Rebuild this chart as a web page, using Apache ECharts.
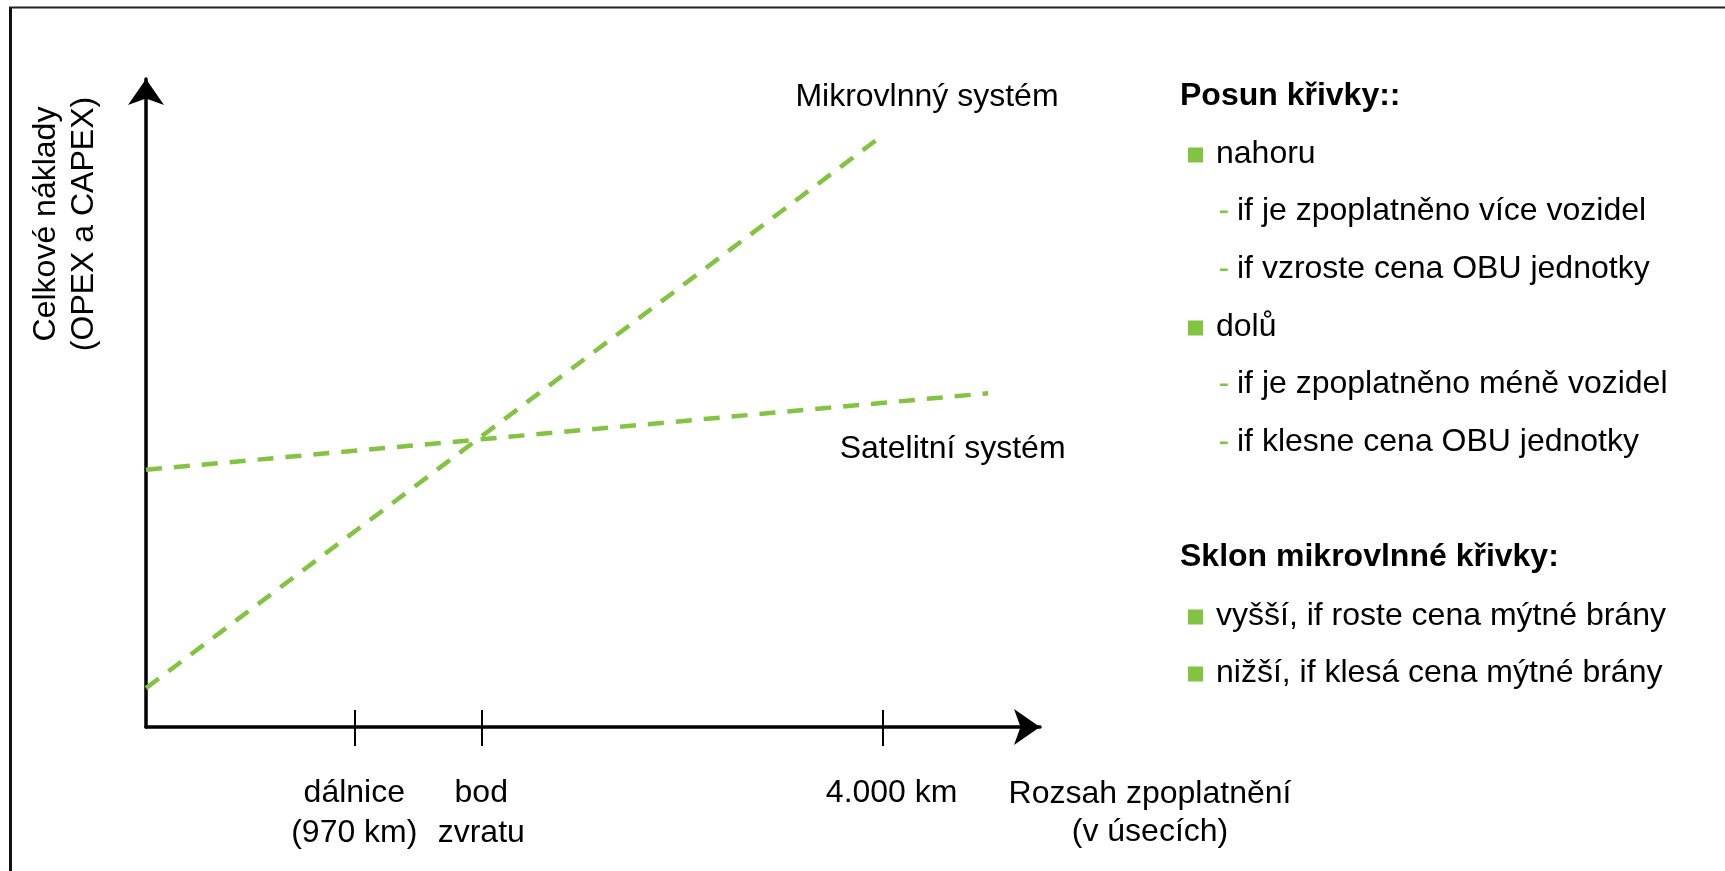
<!DOCTYPE html>
<html>
<head>
<meta charset="utf-8">
<script src="https://cdn.jsdelivr.net/npm/echarts@6/dist/echarts.min.js"></script>
<style>
html,body{margin:0;padding:0;background:#fff;}
#chart{width:1725px;height:871px;}
</style>
</head>
<body>
<div id="chart"></div>
<script>
// ---- data ----
const xTickValues = [2.33, 3.75, 8.24];
const xTickLabels = ['dálnice\n(970 km)', 'bod\nzvratu', '4.000 km'];
const seriesNames = ['Mikrovlnný systém', 'Satelitní systém'];
const microX = [0, 8.21];
const microY = [0.60, 9.10];
const satX = [0, 9.42];
const satY = [3.97, 5.15];
const yTitle = 'Celkové náklady\n(OPEX a CAPEX)';
const xTitle = 'Rozsah zpoplatnění\n(v úsecích)';
const panelText = [
  'Posun křivky::',
  'nahoru',
  'if je zpoplatněno více vozidel',
  'if vzroste cena OBU jednotky',
  'dolů',
  'if je zpoplatněno méně vozidel',
  'if klesne cena OBU jednotky',
  'Sklon mikrovlnné křivky:',
  'vyšší, if roste cena mýtné brány',
  'nižší, if klesá cena mýtné brány'
];
const panelKind = ['h', 'b', 's', 's', 'b', 's', 's', 'h', 'b', 'b'];

// ---- layout / style ----
const panelY = [96, 154, 211, 269, 327, 384, 442, 557, 616, 673];
const GREEN = '#82C341';
const FONT = "'Liberation Sans', Arial, sans-serif";
const FS = 32;

const chart = echarts.init(document.getElementById('chart'));

function pairs(xs, ys) { return xs.map((x, i) => [x, ys[i]]); }

function lineData(xs, ys, labelCfg) {
  const d = pairs(xs, ys).map(p => ({ value: p }));
  d[d.length - 1].label = labelCfg;
  return d;
}

const labelBase = { show: true, color: '#000', fontSize: FS, fontFamily: FONT, lineHeight: 38 };

const graphics = [];
// frame (left + top)
graphics.push({ type: 'line', shape: { x1: 10.5, y1: 7, x2: 10.5, y2: 871 }, style: { stroke: '#111', lineWidth: 3 }, silent: true });
graphics.push({ type: 'line', shape: { x1: 9, y1: 7.5, x2: 1725, y2: 7.5 }, style: { stroke: '#222', lineWidth: 2 }, silent: true });
// y title
graphics.push({
  type: 'text', x: 65, y: 224, rotation: Math.PI / 2,
  style: { text: yTitle, fill: '#000', fontSize: FS, fontFamily: FONT, lineHeight: 38,
    align: 'center', verticalAlign: 'middle', textAlign: 'center', textVerticalAlign: 'middle' }
});
// x title
graphics.push({
  type: 'text', x: 1150, y: 813,
  style: { text: xTitle, fill: '#000', fontSize: FS, fontFamily: FONT, lineHeight: 38,
    align: 'center', verticalAlign: 'middle', textAlign: 'center', textVerticalAlign: 'middle' }
});
// right panel
panelText.forEach((t, i) => {
  const y = panelY[i];
  const k = panelKind[i];
  const txt = (x, s, fill, bold) => ({
    type: 'text', x: x, y: y,
    style: { text: s, fill: fill, fontSize: FS, fontFamily: FONT, fontWeight: bold ? 'bold' : 'normal',
      align: 'left', verticalAlign: 'middle', textAlign: 'left', textVerticalAlign: 'middle' }
  });
  if (k === 'h') {
    graphics.push(txt(1180, t, '#000', true));
  } else if (k === 'b') {
    graphics.push({ type: 'rect', shape: { x: 1188, y: y - 6.5, width: 15, height: 15 }, style: { fill: GREEN } });
    graphics.push(txt(1216, t, '#000', false));
  } else {
    graphics.push(txt(1218.5, '-', GREEN, false));
    graphics.push(txt(1237, t, '#000', false));
  }
});

const option = {
  animation: false,
  backgroundColor: '#fff',
  grid: { left: 146, top: 79, width: 894, height: 648, containLabel: false },
  xAxis: [
    {
      type: 'value', min: 0, max: 10, position: 'bottom',
      axisLine: { show: true, onZero: false, symbol: ['none', 'arrow'], symbolSize: [27, 26],
        lineStyle: { color: '#000', width: 3.5 } },
      axisTick: { show: true, inside: false, length: 19, customValues: xTickValues,
        lineStyle: { color: '#000', width: 2 } },
      axisLabel: {
        show: true, customValues: xTickValues, margin: 46,
        color: '#000', fontSize: FS, fontFamily: FONT, lineHeight: 40,
        verticalAlign: 'top',
        formatter: function (v) {
          let idx = 0, best = 1e9;
          xTickValues.forEach((tv, i) => { if (Math.abs(tv - v) < best) { best = Math.abs(tv - v); idx = i; } });
          return idx === 2 ? '{r|' + xTickLabels[idx] + '}' : xTickLabels[idx];
        },
        rich: { r: { padding: [0, 0, 0, 18], fontSize: FS, fontFamily: FONT, color: '#000', lineHeight: 40 } }
      },
      splitLine: { show: false }
    },
    {
      type: 'value', min: 0, max: 10, position: 'bottom', offset: 0,
      axisLine: { show: false },
      axisTick: { show: true, inside: true, length: 17, customValues: xTickValues,
        lineStyle: { color: '#000', width: 2 } },
      axisLabel: { show: false },
      splitLine: { show: false }
    }
  ],
  yAxis: {
    type: 'value', min: 0, max: 10,
    axisLine: { show: true, onZero: false, symbol: ['none', 'arrow'], symbolSize: [27, 26],
      lineStyle: { color: '#000', width: 3.5 } },
    axisTick: { show: false },
    axisLabel: { show: false },
    splitLine: { show: false }
  },
  series: [
    {
      name: seriesNames[0], type: 'line', xAxisIndex: 0,
      data: lineData(microX, microY, Object.assign({}, labelBase, { formatter: seriesNames[0], position: 'top', offset: [47, -16] })),
      symbol: 'circle', symbolSize: 1, showSymbol: true,
      itemStyle: { color: 'rgba(0,0,0,0)' },
      lineStyle: { color: GREEN, width: 4.5, type: [16, 12], cap: 'butt' },
      z: 1
    },
    {
      name: seriesNames[1], type: 'line', xAxisIndex: 0,
      data: lineData(satX, satY, Object.assign({}, labelBase, { formatter: seriesNames[1], position: 'bottom', offset: [-35.5, 31] })),
      symbol: 'circle', symbolSize: 1, showSymbol: true,
      itemStyle: { color: 'rgba(0,0,0,0)' },
      lineStyle: { color: GREEN, width: 4.5, type: [16, 12], cap: 'butt' },
      z: 1
    }
  ],
  graphic: graphics
};
chart.setOption(option);
</script>
</body>
</html>
